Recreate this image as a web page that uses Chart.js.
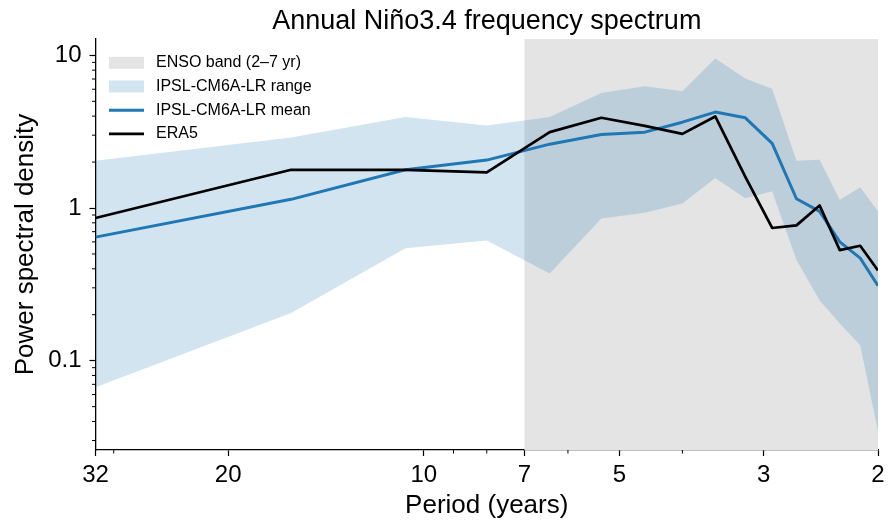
<!DOCTYPE html>
<html>
<head>
<meta charset="utf-8">
<title>Annual Niño3.4 frequency spectrum</title>
<script src="https://cdn.jsdelivr.net/npm/chart.js@4.4.1/dist/chart.umd.min.js"></script>
<style>
  html, body { margin: 0; padding: 0; background: #fff; }
  #wrap { width: 896px; height: 531px; position: relative; }
</style>
</head>
<body>
<div id="wrap"><canvas id="spectrum"></canvas></div>
<script>
// --- DATA ---

// Periods (years) of the spectral estimates
const periods = [32, 16, 10.67, 8, 6.4, 5.33, 4.57, 4, 3.56, 3.2, 2.91, 2.67, 2.46, 2.29, 2.13, 2];

// Power spectral density
const era5     = [0.86, 1.78, 1.78, 1.71, 3.14, 3.90, 3.45, 3.06, 3.98, 1.60, 0.74, 0.77, 1.04, 0.53, 0.566, 0.39];
const ipslMean = [0.645, 1.14, 1.78, 2.06, 2.62, 3.03, 3.14, 3.65, 4.25, 3.90, 2.65, 1.15, 0.95, 0.60, 0.47, 0.31];
const ipslMax  = [2.04, 2.90, 3.94, 3.47, 3.94, 5.67, 6.27, 5.81, 9.55, 7.05, 6.05, 2.04, 2.07, 1.13, 1.37, 0.95];
const ipslMin  = [0.067, 0.205, 0.546, 0.613, 0.373, 0.853, 0.93, 1.07, 1.57, 1.16, 1.29, 0.457, 0.249, 0.175, 0.126, 0.0345];

// ENSO band limits (years)
const ensoBand = [7, 2];

// Ticks
const xMajorTicks = [32, 20, 10, 7, 5, 3, 2];
const xMinorTicks = [30, 9, 8, 6, 4];
const yMajorTicks = [0.1, 1, 10];
const yMinorTicks = [0.03, 0.04, 0.05, 0.06, 0.07, 0.08, 0.09,
                     0.2, 0.3, 0.4, 0.5, 0.6, 0.7, 0.8, 0.9,
                     2, 3, 4, 5, 6, 7, 8, 9];


// --- UI CONSTANTS ---

const FONT = "'Liberation Sans', Arial, sans-serif";
const colors = {
    mean: '#1f77b4',
    era5: '#000000',
    range: 'rgba(31, 119, 180, 0.2)',
    band: '#e4e4e4'
};

const legendItems = [
    { label: 'ENSO band (2\u20137 yr)', type: 'patch', color: colors.band },
    { label: 'IPSL-CM6A-LR range', type: 'patch', color: colors.range },
    { label: 'IPSL-CM6A-LR mean', type: 'line', color: colors.mean, width: 3 },
    { label: 'ERA5', type: 'line', color: colors.era5, width: 2.7 }
];

Chart.defaults.font.family = FONT;
Chart.defaults.color = '#000';


// --- HELPERS ---

function toPoints(values) {
    return periods.map((p, i) => ({ x: p, y: values[i] }));
}

/**
 * Grey ENSO band behind the data.
 */
const ensoBandPlugin = {
    id: 'ensoBand',
    beforeDatasetsDraw(chart) {
        const { ctx, chartArea, scales: { x } } = chart;
        const x1 = x.getPixelForValue(ensoBand[0]);
        const x2 = x.getPixelForValue(ensoBand[1]);
        ctx.save();
        ctx.fillStyle = colors.band;
        ctx.fillRect(Math.min(x1, x2), chartArea.top, Math.abs(x2 - x1), chartArea.bottom - chartArea.top);
        ctx.restore();
    }
};

/**
 * Short minor tick marks (Chart.js has a single tick length per axis).
 */
const minorTicksPlugin = {
    id: 'minorTicks',
    afterDraw(chart) {
        const { ctx, chartArea, scales: { x, y } } = chart;
        ctx.save();
        ctx.strokeStyle = '#000';
        ctx.lineWidth = 1;
        ctx.beginPath();
        xMinorTicks.forEach(v => {
            const px = x.getPixelForValue(v);
            ctx.moveTo(px, chartArea.bottom);
            ctx.lineTo(px, chartArea.bottom + 3.5);
        });
        yMinorTicks.forEach(v => {
            if (v < y.min || v > y.max) return;
            const py = y.getPixelForValue(v);
            ctx.moveTo(chartArea.left - 3.5, py);
            ctx.lineTo(chartArea.left, py);
        });
        ctx.stroke();
        ctx.restore();
    }
};

/**
 * Frameless legend in the upper left corner of the plot.
 */
const legendPlugin = {
    id: 'innerLegend',
    afterDraw(chart) {
        const { ctx, chartArea } = chart;
        const x0 = chartArea.left + 13.5;
        ctx.save();
        ctx.font = '16px ' + FONT;
        ctx.textBaseline = 'middle';
        ctx.textAlign = 'left';
        legendItems.forEach((item, i) => {
            const yRow = chartArea.top + 23.8 + i * 23.7;
            if (item.type === 'patch') {
                ctx.fillStyle = item.color;
                ctx.fillRect(x0, yRow - 6, 35, 12);
            } else {
                ctx.strokeStyle = item.color;
                ctx.lineWidth = item.width;
                ctx.beginPath();
                ctx.moveTo(x0, yRow);
                ctx.lineTo(x0 + 35, yRow);
                ctx.stroke();
            }
            ctx.fillStyle = '#000';
            ctx.fillText(item.label, x0 + 47, yRow);
        });
        ctx.restore();
    }
};


// --- CHART ---

const ctx = document.getElementById('spectrum');

new Chart(ctx, {
    type: 'line',
    data: {
        datasets: [
            {
                label: 'ERA5',
                data: toPoints(era5),
                borderColor: colors.era5,
                borderWidth: 2.7,
                pointRadius: 0,
                fill: false,
                borderJoinStyle: 'round'
            },
            {
                label: 'IPSL-CM6A-LR mean',
                data: toPoints(ipslMean),
                borderColor: colors.mean,
                borderWidth: 3,
                pointRadius: 0,
                fill: false,
                borderJoinStyle: 'round'
            },
            {
                label: 'IPSL-CM6A-LR range',
                data: toPoints(ipslMax),
                borderColor: 'rgba(0,0,0,0)',
                borderWidth: 0,
                backgroundColor: colors.range,
                pointRadius: 0,
                fill: '+1'
            },
            {
                label: 'range min',
                data: toPoints(ipslMin),
                borderColor: 'rgba(0,0,0,0)',
                borderWidth: 0,
                pointRadius: 0,
                fill: false
            }
        ]
    },
    options: {
        responsive: true,
        maintainAspectRatio: false,
        animation: false,
        events: [],
        layout: { padding: { left: 0, right: 18, top: 0, bottom: 0 } },
        plugins: {
            legend: { display: false },
            tooltip: { enabled: false },
            title: {
                display: true,
                text: 'Annual Niño3.4 frequency spectrum',
                fullSize: false,
                color: '#000',
                font: { size: 27, weight: 'normal' },
                padding: { top: 5, bottom: 1.6 }
            }
        },
        scales: {
            x: {
                type: 'logarithmic',
                reverse: true,
                min: 2,
                max: 32,
                bounds: 'data',
                z: 1,
                afterBuildTicks: (scale) => { scale.ticks = xMajorTicks.map(v => ({ value: v })); },
                afterFit: (scale) => { scale.height = 81; },
                ticks: {
                    autoSkip: false,
                    maxRotation: 0,
                    padding: 5,
                    color: '#000',
                    font: { size: 24 },
                    callback: (v) => String(v)
                },
                grid: { drawOnChartArea: false, drawTicks: true, tickLength: 6, tickColor: '#000', tickWidth: 1.2 },
                border: { display: true, color: '#000', width: 1.3 },
                title: {
                    display: true,
                    text: 'Period (years)',
                    color: '#000',
                    font: { size: 26 },
                    padding: { top: 0, bottom: 10 }
                }
            },
            y: {
                type: 'logarithmic',
                min: 0.026,
                max: 12.8,
                bounds: 'data',
                z: 1,
                afterBuildTicks: (scale) => { scale.ticks = yMajorTicks.map(v => ({ value: v })); },
                afterFit: (scale) => { scale.width = 95.5; },
                ticks: {
                    autoSkip: false,
                    padding: 8,
                    color: '#000',
                    font: { size: 24 },
                    callback: (v) => String(v)
                },
                grid: { drawOnChartArea: false, drawTicks: true, tickLength: 6, tickColor: '#000', tickWidth: 1.2 },
                border: { display: true, color: '#000', width: 1.3 },
                title: {
                    display: true,
                    text: 'Power spectral density',
                    color: '#000',
                    font: { size: 26 },
                    padding: { top: 10, bottom: 0 }
                }
            }
        }
    },
    plugins: [ensoBandPlugin, minorTicksPlugin, legendPlugin]
});
</script>
</body>
</html>
